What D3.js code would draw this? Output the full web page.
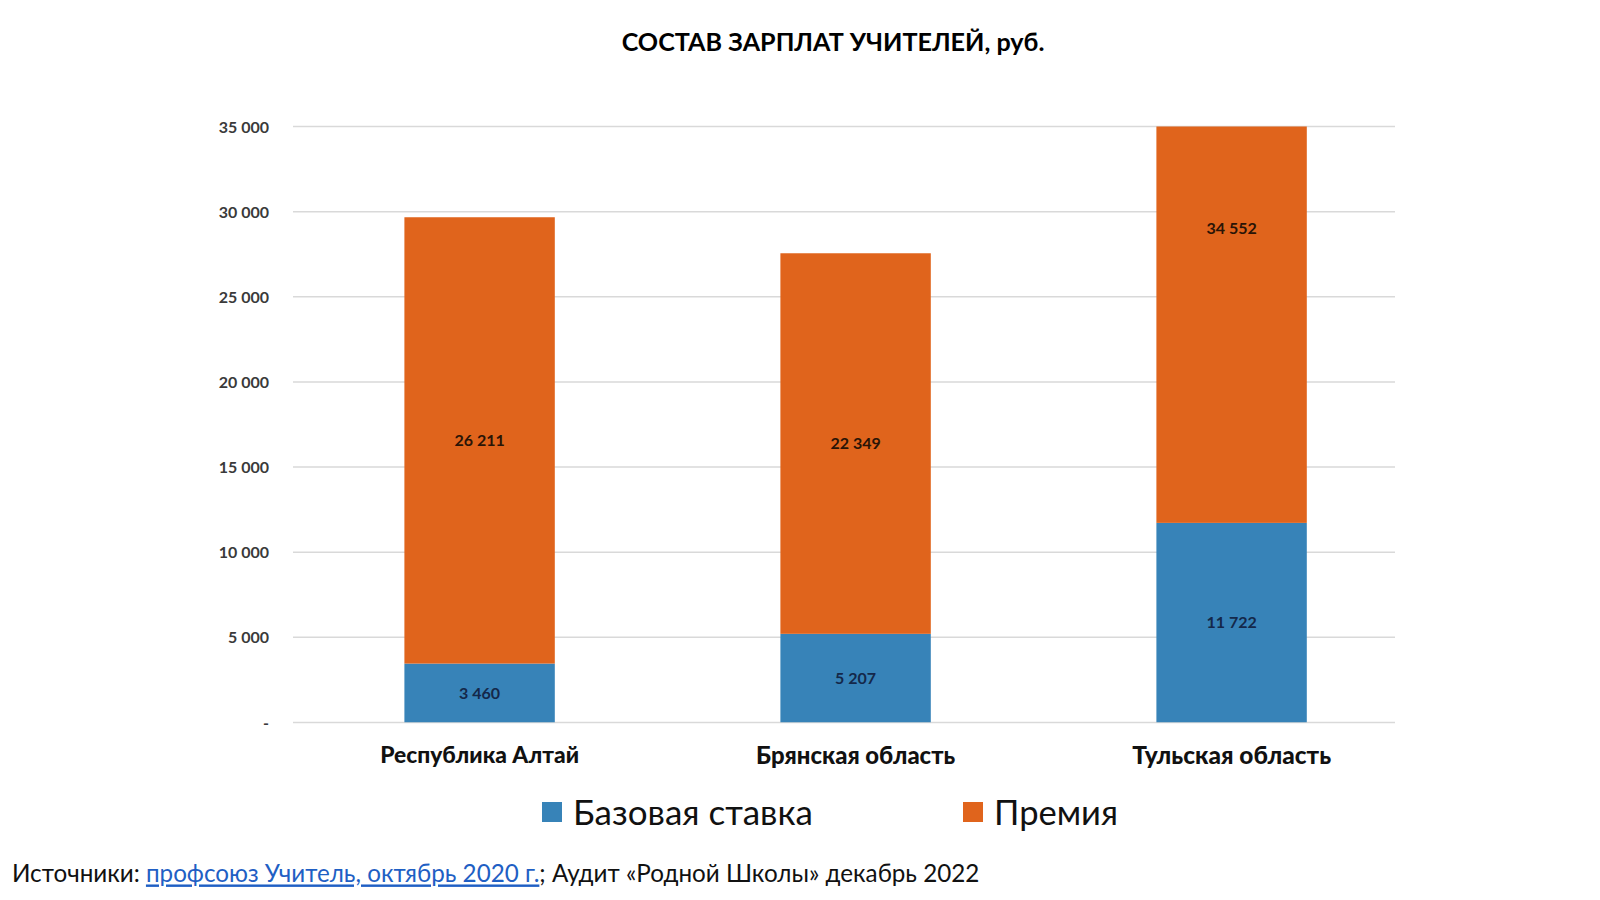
<!DOCTYPE html>
<html><head><meta charset="utf-8">
<script src="https://cdn.jsdelivr.net/npm/d3@7"></script>
<style>body{margin:0;background:#fff;} svg{display:block;}</style>
</head><body>
<svg id="chart" width="1600" height="900"></svg>
<script>
const categories = ["Республика Алтай", "Брянская область", "Тульская область"];
const seriesNames = ["Базовая ставка", "Премия"];
const baseRate = [3460, 5207, 11722];
const bonus = [26211, 22349, 34552];
const yTicks = [0, 5000, 10000, 15000, 20000, 25000, 30000, 35000];
const colors = ["#3783b8", "#e0641c"];
const titleText = "СОСТАВ ЗАРПЛАТ УЧИТЕЛЕЙ, руб.";

const FONT = "Lato, 'Open Sans', sans-serif";
const svg = d3.select("#chart");
const m = {left: 293, right: 1395, top: 126.5, bottom: 722.5};

function fit(sel, target) {
  const w = sel.node().getComputedTextLength();
  const fs = parseFloat(sel.attr("font-size"));
  sel.attr("font-size", (fs * target / w).toFixed(2));
}

const x = d3.scaleBand().domain(categories).range([291.6, 1419.6]).paddingInner(0.6).paddingOuter(0.3);
const y = d3.scaleLinear().domain([0, 35000]).range([m.bottom, m.top]);
const fmt = v => v === 0 ? "-" : d3.format(",")(v).replace(/,/g, " ");

// title
const t = svg.append("text").attr("x", 833).attr("y", 51).attr("text-anchor", "middle")
  .attr("font-family", FONT).attr("font-weight", 700).attr("font-size", 24).attr("fill", "#000").text(titleText);
fit(t, 423);

// grid
svg.append("g").selectAll("line").data(yTicks).join("line")
  .attr("x1", m.left).attr("x2", m.right)
  .attr("y1", d => y(d)).attr("y2", d => y(d))
  .attr("stroke", "#d9d9d9").attr("stroke-width", 1.5);

// y axis labels
const yAxis = d3.axisLeft(y).tickValues(yTicks).tickFormat(fmt).tickSize(0).tickPadding(0);
const ya = svg.append("g").attr("transform", `translate(${m.left - 24},0)`).call(yAxis);
ya.select(".domain").remove();
ya.selectAll("text").attr("font-family", FONT).attr("font-size", 16).attr("fill", "#3a3a3a")
  .attr("font-weight", 700).attr("dy", "0.35em");

// stacked data
const rows = categories.map((c, i) => ({cat: c, base: baseRate[i], bonus: bonus[i]}));
const stack = d3.stack().keys(["base", "bonus"])(rows);

svg.append("defs").append("clipPath").attr("id", "plotclip").append("rect")
  .attr("x", m.left).attr("y", m.top).attr("width", m.right - m.left).attr("height", m.bottom - m.top);

const layers = svg.append("g").attr("clip-path", "url(#plotclip)").selectAll("g").data(stack).join("g")
  .attr("fill", (d, i) => colors[i]);
layers.selectAll("rect").data(d => d).join("rect")
  .attr("x", d => x(d.data.cat)).attr("width", x.bandwidth())
  .attr("y", d => y(d[1])).attr("height", d => y(d[0]) - y(d[1]));

// labels
const labelG = svg.append("g");
stack.forEach((layer, i) => {
  labelG.selectAll(null).data(layer).join("text")
    .attr("x", d => x(d.data.cat) + x.bandwidth() / 2)
    .attr("y", d => y((d[0] + d[1]) / 2))
    .attr("dy", "0.35em").attr("text-anchor", "middle")
    .attr("font-family", FONT).attr("font-size", 16).attr("font-weight", 700)
    .attr("fill", i === 0 ? "#14284a" : "#2a1406")
    .text(d => fmt(d[1] - d[0]));
});

// x axis labels
const xAxis = d3.axisBottom(x).tickSize(0).tickPadding(0);
const xa = svg.append("g").attr("transform", `translate(0,${m.bottom + 33})`).call(xAxis);
xa.select(".domain").remove();
xa.selectAll("text").attr("font-family", FONT).attr("font-size", 20).attr("font-weight", 900)
  .attr("fill", "#111").attr("dy", "0.35em");
xa.selectAll("text").each(function() { fit(d3.select(this), 199); });

// legend
const legendX = [542, 963];
const lg = svg.append("g").selectAll("g").data(seriesNames).join("g")
  .attr("transform", (d, i) => `translate(${legendX[i]},802)`);
lg.append("rect").attr("width", 20).attr("height", 20).attr("fill", (d, i) => colors[i]);
const lt = lg.append("text").attr("x", 31).attr("y", 11).attr("dy", "0.35em")
  .attr("font-family", FONT).attr("font-size", 30).attr("fill", "#111").text(d => d);
lt.each(function(d, i) { fit(d3.select(this), [240, 124][i]); });

// source
const src = svg.append("text").attr("x", 12).attr("y", 874).attr("dy", "0.35em")
  .attr("font-family", FONT).attr("font-size", 22).attr("fill", "#111");
src.append("tspan").text("Источники: ");
src.append("tspan").attr("fill", "#1f5fc4").attr("text-decoration", "underline").text("профсоюз Учитель, октябрь 2020 г.");
src.append("tspan").text("; Аудит «Родной Школы» декабрь 2022");
fit(src, 968);
</script>
</body></html>
